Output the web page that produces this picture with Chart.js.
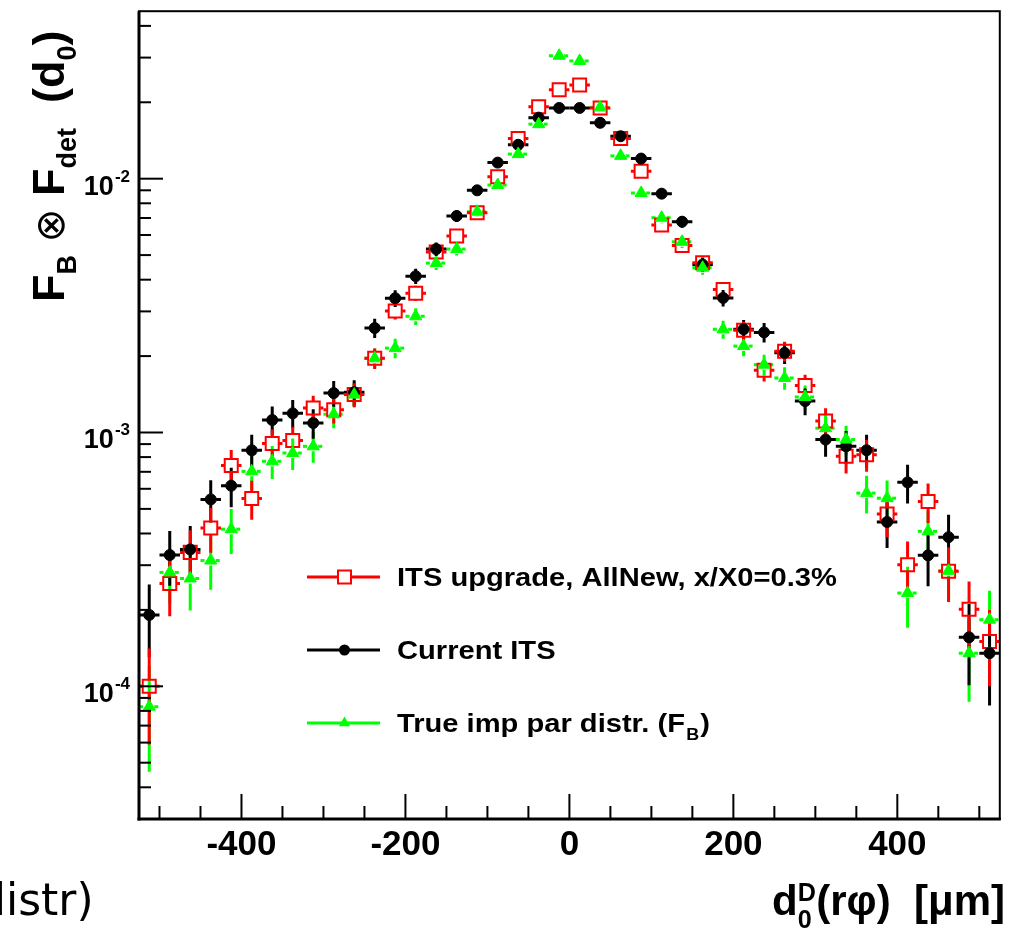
<!DOCTYPE html>
<html lang="en">
<head>
    <meta charset="UTF-8">
    <title>Impact parameter distribution: ITS upgrade vs current ITS</title>

    <style>
        * {
            margin: 0;
            padding: 0;
            box-sizing: border-box;
        }

        body {
            background: #fff;
            width: 1011px;
            height: 933px;
            overflow: hidden;
            font-family: 'Liberation Sans', Arial, Helvetica, sans-serif;
        }

        #stage {
            position: relative;
            width: 1011px;
            height: 933px;
        }

        canvas {
            position: absolute;
            left: 0;
            top: 0;
        }

        .axis-title {
            position: absolute;
            font-weight: bold;
            white-space: nowrap;
            line-height: 1;
            color: #000;
        }

        .axis-title sub {
            font-size: 0.6em;
            vertical-align: -0.45em;
        }

        #ytitle {
            left: 26px;
            top: 302px;
            font-size: 45px;
            transform-origin: 0 0;
            transform: rotate(-90deg);
        }

        #ytitle .otimes {
            font-weight: normal;
            font-family: 'DejaVu Sans', sans-serif;
            font-size: 0.9em;
        }

        #xtitle {
            right: 6px;
            top: 880px;
            font-size: 42px;
        }

        #xtitle .sup {
            font-size: 0.6em;
            vertical-align: 0.55em;
        }

        #xtitle .sub {
            font-size: 0.6em;
            vertical-align: -0.5em;
            margin-left: -0.72em;
            margin-right: 0.18em;
        }

        #cut {
            position: absolute;
            left: -22px;
            top: 874px;
            font-family: 'DejaVu Sans', sans-serif;
            font-size: 44px;
            line-height: 1.2;
            white-space: nowrap;
        }
    </style>

    <script src="https://cdn.jsdelivr.net/npm/chart.js"></script>
</head>
<body>
    <div id="stage">
        <canvas id="chart" width="1011" height="933"></canvas>
        <div id="ytitle" class="axis-title">F<sub>B</sub> <span class="otimes">&#8855;</span> F<sub>det</sub>&nbsp; (d<sub>0</sub>)</div>
        <div id="xtitle" class="axis-title">d<span class="sup">D</span><span class="sub">0</span>(r&phi;)&nbsp; [&mu;m]</div>
        <div id="cut">distr)</div>
    </div>

    <script>
        // bin centres in d0 (um), bin width 25 um
        const binCenters = [-512.5, -487.5, -462.5, -437.5, -412.5, -387.5, -362.5, -337.5, -312.5, -287.5,
            -262.5, -237.5, -212.5, -187.5, -162.5, -137.5, -112.5, -87.5, -62.5, -37.5, -12.5,
            12.5, 37.5, 62.5, 87.5, 112.5, 137.5, 162.5, 187.5, 212.5, 237.5, 262.5, 287.5,
            312.5, 337.5, 362.5, 387.5, 412.5, 437.5, 462.5, 487.5, 512.5];
        const binHalfWidth = 12.5;

        // ITS upgrade, AllNew, x/X0=0.3%
        const upgradeITS = [1.0e-4, 2.54e-4, 3.37e-4, 4.20e-4, 7.42e-4, 5.49e-4, 9.04e-4, 9.29e-4, 1.25e-3, 1.23e-3,
            1.41e-3, 1.96e-3, 3.01e-3, 3.54e-3, 5.14e-3, 5.94e-3, 7.34e-3, 1.018e-2, 1.44e-2, 1.92e-2, 2.24e-2,
            2.34e-2, 1.90e-2, 1.44e-2, 1.07e-2, 6.57e-3, 5.46e-3, 4.66e-3, 3.66e-3, 2.53e-3, 1.76e-3, 2.09e-3, 1.53e-3,
            1.11e-3, 8.06e-4, 8.18e-4, 4.77e-4, 3.01e-4, 5.35e-4, 2.84e-4, 2.01e-4, 1.50e-4];
        const upgradeITSErr = [4.1e-5, 6.5e-5, 7.5e-5, 8.4e-5, 1.12e-4, 9.6e-5, 1.23e-4, 1.25e-4, 1.45e-4, 1.44e-4,
            1.54e-4, 1.82e-4, 2.25e-4, 2.44e-4, 2.94e-4, 3.16e-4, 3.51e-4, 4.14e-4, 4.92e-4, 5.68e-4, 6.14e-4,
            6.27e-4, 5.65e-4, 4.92e-4, 4.24e-4, 3.32e-4, 3.03e-4, 2.8e-4, 2.48e-4, 2.06e-4, 1.72e-4, 1.87e-4, 1.6e-4,
            1.37e-4, 1.16e-4, 1.17e-4, 9.0e-5, 7.1e-5, 9.5e-5, 6.9e-5, 5.8e-5, 5.0e-5];

        // Current ITS
        const currentITS = [1.91e-4, 3.29e-4, 3.46e-4, 5.45e-4, 6.17e-4, 8.51e-4, 1.12e-3, 1.19e-3, 1.09e-3, 1.43e-3,
            1.44e-3, 2.58e-3, 3.38e-3, 4.13e-3, 5.28e-3, 7.13e-3, 9.0e-3, 1.157e-2, 1.36e-2, 1.74e-2, 1.90e-2,
            1.90e-2, 1.66e-2, 1.47e-2, 1.20e-2, 8.73e-3, 6.77e-3, 4.59e-3, 3.39e-3, 2.55e-3, 2.48e-3, 2.06e-3, 1.33e-3,
            9.38e-4, 8.82e-4, 8.51e-4, 4.44e-4, 6.36e-4, 3.28e-4, 3.87e-4, 1.56e-4, 1.35e-4];
        const currentITSErr = [6.1e-5, 8.0e-5, 8.2e-5, 1.03e-4, 1.09e-4, 1.28e-4, 1.47e-4, 1.52e-4, 1.45e-4, 1.66e-4,
            1.67e-4, 2.24e-4, 2.56e-4, 2.83e-4, 3.2e-4, 3.72e-4, 4.17e-4, 4.73e-4, 5.13e-4, 5.8e-4, 6.07e-4,
            6.07e-4, 5.67e-4, 5.33e-4, 4.82e-4, 4.11e-4, 3.62e-4, 2.98e-4, 2.56e-4, 2.22e-4, 2.19e-4, 2.0e-4, 1.6e-4,
            1.35e-4, 1.31e-4, 1.28e-4, 9.3e-5, 1.11e-4, 8.0e-5, 8.7e-5, 5.5e-5, 5.1e-5];

        // True imp par distr. (F_B)
        const trueDist = [8.31e-5, 2.81e-4, 2.66e-4, 3.13e-4, 4.16e-4, 7.03e-4, 7.70e-4, 8.30e-4, 8.82e-4, 1.18e-3,
            1.41e-3, 1.96e-3, 2.15e-3, 2.87e-3, 4.65e-3, 5.28e-3, 7.41e-3, 9.44e-3, 1.25e-2, 1.64e-2, 3.05e-2,
            2.91e-2, 1.91e-2, 1.23e-2, 8.78e-3, 7.02e-3, 5.64e-3, 4.46e-3, 2.55e-3, 2.19e-3, 1.85e-3, 1.64e-3, 1.38e-3,
            1.04e-3, 9.38e-4, 5.77e-4, 5.51e-4, 2.33e-4, 4.08e-4, 2.85e-4, 1.35e-4, 1.83e-4];
        const trueDistErr = [3.7e-5, 6.9e-5, 6.7e-5, 7.3e-5, 8.4e-5, 1.09e-4, 1.14e-4, 1.18e-4, 1.22e-4, 1.41e-4,
            1.54e-4, 1.82e-4, 1.9e-4, 2.2e-4, 2.8e-4, 2.98e-4, 3.53e-4, 3.98e-4, 4.58e-4, 5.25e-4, 7.16e-4,
            7.0e-4, 5.67e-4, 4.55e-4, 3.84e-4, 3.44e-4, 3.08e-4, 2.74e-4, 2.07e-4, 1.92e-4, 1.76e-4, 1.66e-4, 1.52e-4,
            1.32e-4, 1.26e-4, 9.8e-5, 9.6e-5, 6.3e-5, 8.3e-5, 6.9e-5, 4.8e-5, 5.5e-5];

        // axes
        const xTickValues = [-400, -200, 0, 200, 400];
        const xTickLabels = ['-400', '-200', '0', '200', '400'];
        const yTickExponents = [-2, -3, -4];
        const yTickLabels = ['-2', '-3', '-4'];

        const RED = '#ff0000', BLACK = '#000000', GREEN = '#00ff00';
        const toPoints = vals => vals.map((v, i) => ({ x: binCenters[i], y: v }));

        function marker(ctx, style, x, y, color) {
            ctx.save();
            ctx.fillStyle = color;
            ctx.strokeStyle = color;
            ctx.beginPath();
            if (style === 'circle') {
                ctx.arc(x, y, 5.5, 0, Math.PI * 2);
                ctx.fill();
            } else if (style === 'rect') {
                ctx.lineWidth = 2;
                ctx.rect(x - 6.5, y - 6.5, 13, 13);
                ctx.stroke();
            } else {
                ctx.moveTo(x, y - 6.5);
                ctx.lineTo(x + 5.6, y + 3.25);
                ctx.lineTo(x - 5.6, y + 3.25);
                ctx.closePath();
                ctx.fill();
            }
            ctx.restore();
        }

        function seg(ctx, x1, y1, x2, y2) {
            ctx.beginPath();
            ctx.moveTo(x1, y1);
            ctx.lineTo(x2, y2);
            ctx.stroke();
        }

        const rootStyle = {
            id: 'rootStyle',
            beforeDatasetsDraw(chart) {
                // error bars, with a gap where the marker sits (ROOT style)
                const { ctx, chartArea: a, scales: { x, y } } = chart;
                ctx.save();
                ctx.beginPath();
                ctx.rect(a.left, a.top, a.right - a.left, a.bottom - a.top);
                ctx.clip();
                ctx.lineWidth = 3;
                chart.data.datasets.forEach(ds => {
                    ctx.strokeStyle = ds.borderColor;
                    ds.data.forEach((p, i) => {
                        const px = x.getPixelForValue(p.x);
                        const py = y.getPixelForValue(p.y);
                        const xl = x.getPixelForValue(p.x - binHalfWidth);
                        const xr = x.getPixelForValue(p.x + binHalfWidth);
                        const yt = y.getPixelForValue(p.y + ds.errors[i]);
                        const yb = y.getPixelForValue(Math.max(p.y - ds.errors[i], 1e-9));
                        const g = ds.gap;
                        ctx.setLineDash(ds.hDash);
                        seg(ctx, xl, py, px - g, py);
                        seg(ctx, px + g, py, xr, py);
                        ctx.setLineDash([]);
                        if (yt < py - g) seg(ctx, px, yt, px, py - g);
                        if (yb > py + g) seg(ctx, px, py + g, px, yb);
                    });
                });
                ctx.restore();
            },
            afterDatasetsDraw(chart) {
                const { ctx, chartArea: a, scales: { x, y } } = chart;
                ctx.save();
                ctx.strokeStyle = '#000';
                ctx.fillStyle = '#000';

                // frame
                ctx.lineWidth = 2;
                ctx.strokeRect(a.left, a.top, a.right - a.left, a.bottom - a.top);
                ctx.lineWidth = 3;
                seg(ctx, a.left, a.top, a.left, a.bottom + 1.5);
                seg(ctx, a.left - 1.5, a.bottom, a.right + 1, a.bottom);

                // x ticks, inside the frame
                ctx.lineWidth = 2;
                for (let v = -500; v <= 500; v += 50) {
                    const px = x.getPixelForValue(v);
                    const len = v % 200 === 0 ? 25 : 13;
                    seg(ctx, px, a.bottom, px, a.bottom - len);
                }
                // y ticks
                for (let e = -5; e <= -1; e++) {
                    for (let k = 1; k <= 9; k++) {
                        const v = k * Math.pow(10, e);
                        if (v < y.min || v > y.max) continue;
                        const py = y.getPixelForValue(v);
                        seg(ctx, a.left, py, a.left + (k === 1 ? 24 : 12), py);
                    }
                }

                // x tick labels
                ctx.font = 'bold 35px "Liberation Sans", Arial, sans-serif';
                ctx.textAlign = 'center';
                ctx.textBaseline = 'alphabetic';
                xTickValues.forEach((v, i) => {
                    ctx.fillText(xTickLabels[i], x.getPixelForValue(v), a.bottom + 36);
                });

                // y tick labels: 10 with raised exponent
                yTickExponents.forEach((e, i) => {
                    const py = y.getPixelForValue(Math.pow(10, e));
                    ctx.font = 'bold 17px "Liberation Sans", Arial, sans-serif';
                    ctx.textAlign = 'right';
                    ctx.fillText(yTickLabels[i], 130, py + 3);
                    const ew = ctx.measureText(yTickLabels[i]).width;
                    ctx.font = 'bold 27px "Liberation Sans", Arial, sans-serif';
                    ctx.fillText('10', 130 - ew - 1, py + 16);
                });

                // legend
                const rows = [
                    { y: 577, ds: chart.data.datasets[2], style: 'rect', text: 'ITS upgrade, AllNew, x/X0=0.3%' },
                    { y: 650, ds: chart.data.datasets[1], style: 'circle', text: 'Current ITS' },
                    { y: 723, ds: chart.data.datasets[0], style: 'triangle', text: 'True imp par distr. (F', sub: 'B', tail: ')' }
                ];
                ctx.textAlign = 'left';
                rows.forEach(r => {
                    ctx.strokeStyle = r.ds.borderColor;
                    ctx.lineWidth = 3;
                    seg(ctx, 307, r.y, 380, r.y);
                    if (r.style === 'rect') {
                        ctx.fillStyle = '#fff';
                        ctx.fillRect(338, r.y - 6.5, 13, 13);
                    }
                    marker(ctx, r.style, 344.5, r.y, r.ds.borderColor);
                    ctx.fillStyle = '#000';
                    ctx.save();
                    ctx.translate(397, r.y + 9);
                    ctx.scale(1.12, 1);
                    ctx.font = 'bold 26px "Liberation Sans", Arial, sans-serif';
                    ctx.fillText(r.text, 0, 0);
                    if (r.sub) {
                        let w = ctx.measureText(r.text).width;
                        ctx.font = 'bold 16px "Liberation Sans", Arial, sans-serif';
                        ctx.fillText(r.sub, w + 1, 8);
                        w += ctx.measureText(r.sub).width + 2;
                        ctx.font = 'bold 26px "Liberation Sans", Arial, sans-serif';
                        ctx.fillText(r.tail, w, 0);
                    }
                    ctx.restore();
                });
                ctx.restore();
            }
        };

        new Chart(document.getElementById('chart'), {
            type: 'scatter',
            data: {
                datasets: [{
                    label: 'True imp par distr. (F_B)',
                    data: toPoints(trueDist),
                    errors: trueDistErr,
                    gap: 5,
                    hDash: [4, 4],
                    pointStyle: 'triangle',
                    pointRadius: 7,
                    backgroundColor: GREEN,
                    borderColor: GREEN,
                    borderWidth: 1,
                    order: 1
                }, {
                    label: 'Current ITS',
                    data: toPoints(currentITS),
                    errors: currentITSErr,
                    gap: 5,
                    hDash: [],
                    pointStyle: 'circle',
                    pointRadius: 5.5,
                    backgroundColor: BLACK,
                    borderColor: BLACK,
                    borderWidth: 1,
                    order: 2
                }, {
                    label: 'ITS upgrade, AllNew, x/X0=0.3%',
                    data: toPoints(upgradeITS),
                    errors: upgradeITSErr,
                    gap: 7,
                    hDash: [],
                    pointStyle: 'rect',
                    pointRadius: 9.2,
                    backgroundColor: 'rgba(0,0,0,0)',
                    borderColor: RED,
                    borderWidth: 2,
                    order: 3
                }]
            },
            options: {
                responsive: false,
                animation: false,
                events: [],
                layout: {
                    padding: { left: 139, top: 11, right: 7, bottom: 114 }
                },
                plugins: {
                    legend: { display: false },
                    tooltip: { enabled: false }
                },
                scales: {
                    x: { type: 'linear', min: -525, max: 525, display: false },
                    y: { type: 'logarithmic', min: 3e-5, max: 0.0457, display: false }
                }
            },
            plugins: [rootStyle]
        });
    </script>
</body>
</html>
